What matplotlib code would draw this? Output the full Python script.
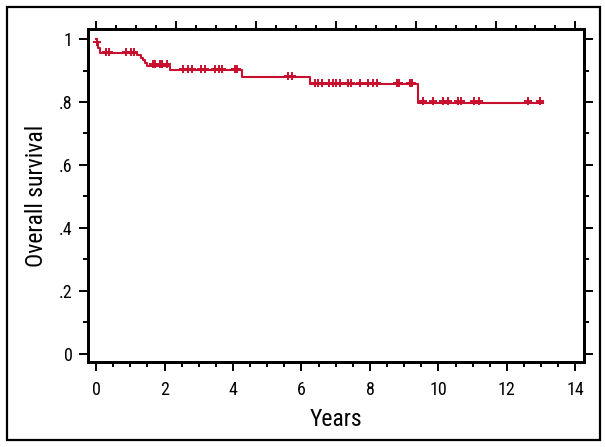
import numpy as np
import matplotlib.pyplot as plt
from matplotlib.patches import Rectangle
from matplotlib.ticker import FixedLocator, MultipleLocator
from matplotlib.transforms import ScaledTranslation

# ================= data =================
# Kaplan-Meier steps: time of event (years) and survival after it
EVENT_TIMES = [0.0, 0.02, 0.05, 0.12, 1.21, 1.30, 1.37, 1.43, 1.50, 2.15, 4.27, 6.25, 9.39]
SURVIVAL = [1.0, 0.986, 0.972, 0.955, 0.949, 0.941, 0.933, 0.925, 0.916, 0.901, 0.878, 0.856, 0.798]
END_TIME = 13.06

# censored observations (years)
CENSOR_TIMES = [0.04, 0.30, 0.37, 0.88, 1.03, 1.11, 1.66, 1.73, 1.86, 1.93, 2.08,
                2.54, 2.69, 2.80, 3.06, 3.19, 3.47, 3.58, 3.68, 4.05, 4.11,
                5.62, 5.71,
                6.39, 6.49, 6.59, 6.81, 6.91, 7.01, 7.12, 7.37, 7.44, 7.71, 7.95,
                8.08, 8.20, 8.78, 8.86, 9.17, 9.24,
                9.56, 9.83, 10.12, 10.29, 10.58, 10.67, 11.04, 11.19, 12.62, 12.96]

X_TICKS = [0, 2, 4, 6, 8, 10, 12, 14]
Y_TICKS = [0, 0.2, 0.4, 0.6, 0.8, 1.0]
Y_LABELS = ['0', '.2', '.4', '.6', '.8', '1']

# ================= style =================
LINE_COLOR = '#c8102e'
FONT = ['Roboto Condensed', 'Liberation Sans', 'DejaVu Sans']
TICK_FS = 13
LABEL_FS = 17

plt.rcParams['font.family'] = FONT


def main():
    fig = plt.figure(figsize=(6.05, 4.47), dpi=100)
    ax = fig.add_axes([0.1455, 0.1902, 0.8198, 0.7449])

    # survival curve
    xs = list(EVENT_TIMES) + [END_TIME]
    ys = list(SURVIVAL) + [SURVIVAL[-1]]
    ax.step(xs, ys, where='post', color=LINE_COLOR, lw=1.5, zorder=2)

    # censor marks (drawn a touch above the curve, as in the original)
    idx = np.searchsorted(EVENT_TIMES, CENSOR_TIMES, side='right') - 1
    cy = np.array(SURVIVAL)[idx]
    lift = ax.transData + ScaledTranslation(0, 1.2 / 72, fig.dpi_scale_trans)
    ax.plot(CENSOR_TIMES, cy, '+', color=LINE_COLOR, ms=5.5, mew=1.4,
            zorder=3, transform=lift)

    ax.set_xlim(-0.234, 14.25)
    ax.set_ylim(-0.026, 1.032)

    ax.set_xticks(X_TICKS)
    ax.xaxis.set_minor_locator(MultipleLocator(0.5))
    ax.set_yticks(Y_TICKS)
    ax.set_yticklabels(Y_LABELS)
    ax.yaxis.set_minor_locator(MultipleLocator(0.1))

    ax.tick_params(which='major', direction='out', length=6.5, width=1.4,
                   right=True, labelsize=TICK_FS)
    ax.tick_params(which='minor', direction='out', length=3.5, width=1.4,
                   right=True)
    ax.tick_params(axis='x', which='major', pad=7)
    ax.tick_params(axis='y', which='major', pad=4.5)

    # top axis: unlabeled ticks on its own spacing
    top = ax.twiny()
    top.set_xlim(ax.get_xlim())
    top.xaxis.set_major_locator(FixedLocator(np.arange(7) * 14 / 6))
    top.xaxis.set_minor_locator(FixedLocator(np.arange(25) * 14 / 24))
    top.tick_params(which='major', direction='out', length=6, width=1.4, labeltop=False)
    top.tick_params(which='minor', direction='out', length=3, width=1.4)

    for a in (ax, top):
        for spine in a.spines.values():
            spine.set_linewidth(2)
            spine.set_color('black')

    ax.set_xlabel('Years', fontsize=LABEL_FS, labelpad=7)
    ax.set_ylabel('Overall survival', fontsize=LABEL_FS, labelpad=8)

    # outer border around whole figure
    fig.patches.append(Rectangle((7 / 605, 1 - 440 / 447), 593 / 605, 433 / 447,
                                 transform=fig.transFigure, fill=False,
                                 edgecolor='black', lw=1.6))

    fig.savefig('out.png', dpi=100)


if __name__ == "__main__":
    main()
